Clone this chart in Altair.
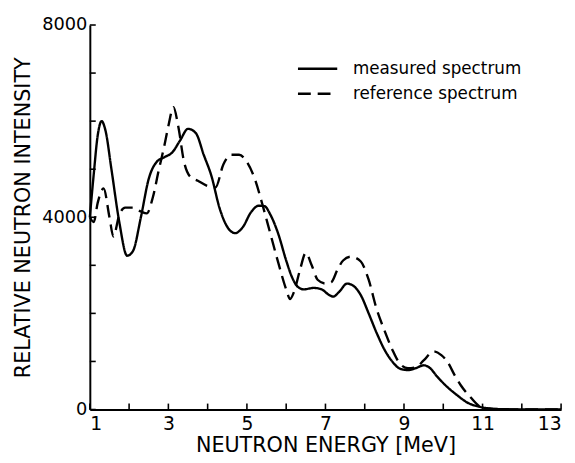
import altair as alt
import pandas as pd

# Measured spectrum (solid)
energy_measured = [1.0, 1.1, 1.2, 1.3, 1.4, 1.55, 1.75, 1.95, 2.1, 2.3, 2.5, 2.7, 2.9, 3.1, 3.3,
                   3.5, 3.7, 3.9, 4.1, 4.3, 4.5, 4.7, 4.9, 5.1, 5.3, 5.45, 5.6, 5.8, 6.0, 6.15,
                   6.3, 6.45, 6.7, 6.9, 7.1, 7.2, 7.35, 7.55, 7.7, 7.9, 8.1, 8.3, 8.5, 8.7, 8.9,
                   9.1, 9.3, 9.5, 9.65, 9.85, 10.1, 10.35, 10.6, 10.9, 11.2, 11.6, 12.5, 13.0]
intensity_measured = [4000, 4900, 5700, 6000, 5800, 5000, 3900, 3200, 3300, 4000, 4800, 5150, 5250, 5350, 5600,
                      5840, 5750, 5300, 4850, 4200, 3800, 3670, 3800, 4100, 4240, 4230, 4050, 3650, 3100, 2750,
                      2550, 2500, 2530, 2500, 2380, 2350, 2450, 2620, 2580, 2380, 2000, 1600, 1250, 1000, 850,
                      820, 860, 920, 870, 680, 470, 300, 150, 60, 20, 5, 0, 0]

# Reference spectrum (dashed)
energy_reference = [1.0, 1.1, 1.2, 1.35, 1.5, 1.6, 1.75, 1.9, 2.1, 2.3, 2.45, 2.6, 2.75, 2.9, 3.0,
                    3.13, 3.25, 3.4, 3.55, 3.75, 4.0, 4.2, 4.4, 4.6, 4.8, 5.0, 5.2, 5.4, 5.6, 5.8,
                    6.0, 6.1, 6.2, 6.35, 6.5, 6.65, 6.8, 7.0, 7.15, 7.3, 7.45, 7.65, 7.9, 8.1, 8.3,
                    8.5, 8.7, 8.9, 9.1, 9.3, 9.5, 9.75, 9.95, 10.1, 10.3, 10.45, 10.7, 10.9, 11.1,
                    11.5, 12.5, 13.0]
intensity_reference = [4000, 3900, 4300, 4600, 4000, 3600, 4050, 4200, 4200, 4120, 4080, 4400, 4960, 5500, 5900,
                       6290, 5900, 5150, 4850, 4760, 4650, 4620, 5100, 5300, 5300, 5150, 4800, 4250, 3650, 3050,
                       2500, 2300, 2450, 2900, 3260, 3000, 2700, 2620, 2650, 2900, 3100, 3180, 3080, 2700, 2100,
                       1650, 1250, 950, 860, 880, 1020, 1210, 1130, 1000, 700, 500, 250, 80, 20,
                       5, 0, 0]

series_names = ["measured spectrum", "reference spectrum"]
x_tick_values = list(range(1, 14))
y_tick_values = list(range(0, 8001, 1000))
x_label_values = [1, 3, 5, 7, 9, 11, 13]
y_label_values = [0, 4000, 8000]

# legend sample placement (in data units)
legend_x_start = [6.3, 6.3]
legend_x_end = [7.3, 7.3]
legend_x_text = [7.7, 7.7]
legend_y = [7090, 6570]

FONT = "DejaVu Sans"
W, H = 478, 390
TICK = 6

df = pd.concat([
    pd.DataFrame({"energy": energy_measured, "intensity": intensity_measured, "series": series_names[0]}),
    pd.DataFrame({"energy": energy_reference, "intensity": intensity_reference, "series": series_names[1]}),
], ignore_index=True)

x_scale = alt.Scale(domain=[1, 13], nice=False)
y_scale = alt.Scale(domain=[0, 8000], nice=False)
dash_scale = alt.Scale(domain=series_names, range=[[1, 0], [13, 7]])

base_x = alt.X("energy:Q", scale=x_scale, axis=alt.Axis(
    values=x_label_values, format="d", title="NEUTRON ENERGY [MeV]", grid=False, tickSize=0,
    labelFont=FONT, labelFontSize=19, labelColor="black", labelPadding=5,
    titleFont=FONT, titleFontSize=21, titleFontWeight="normal", titleColor="black", titlePadding=2,
    domainColor="black", domainWidth=2))
base_y = alt.Y("intensity:Q", scale=y_scale, axis=alt.Axis(
    values=y_label_values, format="d", title="RELATIVE NEUTRON INTENSITY", grid=False, tickSize=0,
    labelFont=FONT, labelFontSize=18, labelColor="black", labelPadding=3,
    titleFont=FONT, titleFontSize=21, titleFontWeight="normal", titleColor="black", titlePadding=8,
    domainColor="black", domainWidth=2))

lines = alt.Chart(df).mark_line(color="black", strokeWidth=2.4, interpolate="monotone").encode(
    x=base_x, y=base_y,
    strokeDash=alt.StrokeDash("series:N", scale=dash_scale, legend=None),
    detail="series:N",
)

xt = pd.DataFrame({"energy": x_tick_values})
x_ticks = alt.Chart(xt).mark_rule(color="black", strokeWidth=1.6).encode(
    x=alt.X("energy:Q", scale=x_scale), y=alt.value(H), y2=alt.value(H - TICK))

yt = pd.DataFrame({"intensity": y_tick_values})
y_ticks = alt.Chart(yt).mark_rule(color="black", strokeWidth=1.6).encode(
    y=alt.Y("intensity:Q", scale=y_scale), x=alt.value(0), x2=alt.value(TICK))

leg = pd.DataFrame({"x0": legend_x_start, "x1": legend_x_end, "xt": legend_x_text,
                    "y": legend_y, "series": series_names})
leg_lines = alt.Chart(leg).mark_rule(color="black", strokeWidth=2.4).encode(
    x=alt.X("x0:Q", scale=x_scale), x2="x1:Q", y=alt.Y("y:Q", scale=y_scale),
    strokeDash=alt.StrokeDash("series:N", scale=dash_scale, legend=None))
leg_text = alt.Chart(leg).mark_text(align="left", baseline="middle", font=FONT, fontSize=17,
                                    color="black").encode(
    x=alt.X("xt:Q", scale=x_scale), y=alt.Y("y:Q", scale=y_scale), text="series:N")

chart = alt.layer(lines, x_ticks, y_ticks, leg_lines, leg_text).properties(
    width=W, height=H,
    autosize=alt.AutoSizeParams(type="none"),
    padding={"left": 83, "top": 14, "right": 6, "bottom": 51},
    background="white",
).configure_view(stroke=None)

chart.save("out.html", embed_options={"renderer": "svg", "actions": False})
